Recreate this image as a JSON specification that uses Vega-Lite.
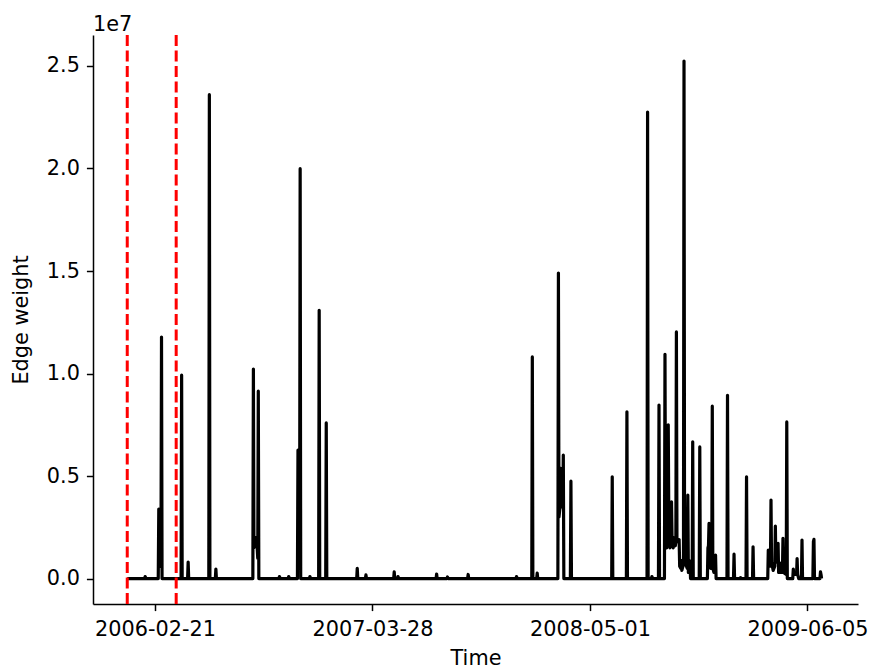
{
  "$schema": "https://vega.github.io/schema/vega-lite/v6.json",
  "width": 765,
  "height": 569,
  "autosize": "none",
  "padding": {"left": 93, "top": 35, "right": 15, "bottom": 67},
  "background": "white",
  "config": {
    "view": {"stroke": null},
    "font": "DejaVu Sans",
    "axis": {
      "grid": false,
      "domainColor": "black",
      "domainWidth": 1.5,
      "tickColor": "black",
      "tickWidth": 1.5,
      "tickSize": 6.6,
      "labelPadding": 5,
      "labelFont": "DejaVu Sans",
      "labelFontSize": 20.8,
      "labelColor": "black",
      "titleFont": "DejaVu Sans",
      "titleFontSize": 20.8,
      "titleFontWeight": "normal",
      "titleColor": "black"
    }
  },
  "title": {
    "text": "1e7",
    "anchor": "start",
    "frame": "group",
    "fontSize": 20.8,
    "fontWeight": "normal",
    "font": "DejaVu Sans",
    "color": "black",
    "offset": -2
  },
  "datasets": {
    "series": [
      {"t": "2006-01-01", "w": 0},
      {"t": "2006-02-02", "w": 0},
      {"t": "2006-02-03", "w": 100000},
      {"t": "2006-02-04", "w": 0},
      {"t": "2006-02-27", "w": 0},
      {"t": "2006-02-28", "w": 3390000},
      {"t": "2006-03-01", "w": 1000000},
      {"t": "2006-03-02", "w": 800000},
      {"t": "2006-03-03", "w": 600000},
      {"t": "2006-03-04", "w": 800000},
      {"t": "2006-03-05", "w": 11780000},
      {"t": "2006-03-06", "w": 0},
      {"t": "2006-04-10", "w": 0},
      {"t": "2006-04-11", "w": 9920000},
      {"t": "2006-04-12", "w": 0},
      {"t": "2006-04-22", "w": 0},
      {"t": "2006-04-23", "w": 800000},
      {"t": "2006-04-24", "w": 0},
      {"t": "2006-05-31", "w": 0},
      {"t": "2006-06-01", "w": 23600000},
      {"t": "2006-06-02", "w": 0},
      {"t": "2006-06-12", "w": 0},
      {"t": "2006-06-13", "w": 460000},
      {"t": "2006-06-14", "w": 0},
      {"t": "2006-08-20", "w": 0},
      {"t": "2006-08-21", "w": 10220000},
      {"t": "2006-08-22", "w": 1500000},
      {"t": "2006-08-24", "w": 1800000},
      {"t": "2006-08-26", "w": 2000000},
      {"t": "2006-08-28", "w": 1500000},
      {"t": "2006-08-29", "w": 1000000},
      {"t": "2006-08-30", "w": 9140000},
      {"t": "2006-08-31", "w": 0},
      {"t": "2006-10-07", "w": 0},
      {"t": "2006-10-08", "w": 100000},
      {"t": "2006-10-09", "w": 0},
      {"t": "2006-10-24", "w": 0},
      {"t": "2006-10-25", "w": 100000},
      {"t": "2006-10-26", "w": 0},
      {"t": "2006-11-10", "w": 0},
      {"t": "2006-11-11", "w": 6260000},
      {"t": "2006-11-12", "w": 1000000},
      {"t": "2006-11-14", "w": 1000000},
      {"t": "2006-11-15", "w": 19990000},
      {"t": "2006-11-16", "w": 0},
      {"t": "2006-12-02", "w": 0},
      {"t": "2006-12-03", "w": 100000},
      {"t": "2006-12-04", "w": 0},
      {"t": "2006-12-19", "w": 0},
      {"t": "2006-12-20", "w": 13080000},
      {"t": "2006-12-21", "w": 0},
      {"t": "2007-01-01", "w": 0},
      {"t": "2007-01-02", "w": 7590000},
      {"t": "2007-01-03", "w": 0},
      {"t": "2007-02-27", "w": 0},
      {"t": "2007-02-28", "w": 500000},
      {"t": "2007-03-01", "w": 0},
      {"t": "2007-03-15", "w": 0},
      {"t": "2007-03-16", "w": 180000},
      {"t": "2007-03-17", "w": 0},
      {"t": "2007-05-06", "w": 0},
      {"t": "2007-05-07", "w": 330000},
      {"t": "2007-05-08", "w": 0},
      {"t": "2007-05-13", "w": 0},
      {"t": "2007-05-14", "w": 100000},
      {"t": "2007-05-15", "w": 0},
      {"t": "2007-07-23", "w": 0},
      {"t": "2007-07-24", "w": 220000},
      {"t": "2007-07-25", "w": 0},
      {"t": "2007-08-12", "w": 0},
      {"t": "2007-08-13", "w": 80000},
      {"t": "2007-08-14", "w": 0},
      {"t": "2007-09-19", "w": 0},
      {"t": "2007-09-20", "w": 200000},
      {"t": "2007-09-21", "w": 0},
      {"t": "2007-12-17", "w": 0},
      {"t": "2007-12-18", "w": 100000},
      {"t": "2007-12-19", "w": 0},
      {"t": "2008-01-15", "w": 0},
      {"t": "2008-01-16", "w": 10810000},
      {"t": "2008-01-17", "w": 0},
      {"t": "2008-01-24", "w": 0},
      {"t": "2008-01-25", "w": 270000},
      {"t": "2008-01-26", "w": 0},
      {"t": "2008-03-03", "w": 0},
      {"t": "2008-03-04", "w": 14900000},
      {"t": "2008-03-05", "w": 3000000},
      {"t": "2008-03-07", "w": 3500000},
      {"t": "2008-03-08", "w": 5380000},
      {"t": "2008-03-09", "w": 3500000},
      {"t": "2008-03-12", "w": 3500000},
      {"t": "2008-03-13", "w": 6020000},
      {"t": "2008-03-14", "w": 0},
      {"t": "2008-03-26", "w": 0},
      {"t": "2008-03-27", "w": 4750000},
      {"t": "2008-03-28", "w": 0},
      {"t": "2008-06-10", "w": 0},
      {"t": "2008-06-11", "w": 4960000},
      {"t": "2008-06-12", "w": 0},
      {"t": "2008-07-07", "w": 0},
      {"t": "2008-07-08", "w": 8130000},
      {"t": "2008-07-09", "w": 0},
      {"t": "2008-08-14", "w": 0},
      {"t": "2008-08-15", "w": 22750000},
      {"t": "2008-08-16", "w": 0},
      {"t": "2008-08-22", "w": 0},
      {"t": "2008-08-23", "w": 100000},
      {"t": "2008-08-24", "w": 0},
      {"t": "2008-09-04", "w": 0},
      {"t": "2008-09-05", "w": 8460000},
      {"t": "2008-09-06", "w": 0},
      {"t": "2008-09-15", "w": 0},
      {"t": "2008-09-16", "w": 10940000},
      {"t": "2008-09-17", "w": 2000000},
      {"t": "2008-09-19", "w": 1500000},
      {"t": "2008-09-21", "w": 2500000},
      {"t": "2008-09-22", "w": 7500000},
      {"t": "2008-09-23", "w": 3000000},
      {"t": "2008-09-25", "w": 1500000},
      {"t": "2008-09-27", "w": 2000000},
      {"t": "2008-09-28", "w": 3740000},
      {"t": "2008-09-29", "w": 2000000},
      {"t": "2008-10-01", "w": 1500000},
      {"t": "2008-10-02", "w": 2000000},
      {"t": "2008-10-03", "w": 1800000},
      {"t": "2008-10-05", "w": 1600000},
      {"t": "2008-10-06", "w": 1800000},
      {"t": "2008-10-07", "w": 12030000},
      {"t": "2008-10-08", "w": 1900000},
      {"t": "2008-10-10", "w": 1800000},
      {"t": "2008-10-12", "w": 1900000},
      {"t": "2008-10-13", "w": 600000},
      {"t": "2008-10-15", "w": 500000},
      {"t": "2008-10-16", "w": 880000},
      {"t": "2008-10-17", "w": 400000},
      {"t": "2008-10-20", "w": 700000},
      {"t": "2008-10-21", "w": 25240000},
      {"t": "2008-10-22", "w": 1000000},
      {"t": "2008-10-24", "w": 700000},
      {"t": "2008-10-27", "w": 500000},
      {"t": "2008-10-28", "w": 4070000},
      {"t": "2008-10-29", "w": 300000},
      {"t": "2008-10-31", "w": 300000},
      {"t": "2008-11-01", "w": 850000},
      {"t": "2008-11-02", "w": 0},
      {"t": "2008-11-05", "w": 0},
      {"t": "2008-11-06", "w": 6670000},
      {"t": "2008-11-07", "w": 0},
      {"t": "2008-11-18", "w": 0},
      {"t": "2008-11-19", "w": 6420000},
      {"t": "2008-11-20", "w": 0},
      {"t": "2008-12-03", "w": 0},
      {"t": "2008-12-04", "w": 1500000},
      {"t": "2008-12-05", "w": 1600000},
      {"t": "2008-12-06", "w": 2690000},
      {"t": "2008-12-07", "w": 1200000},
      {"t": "2008-12-09", "w": 500000},
      {"t": "2008-12-11", "w": 500000},
      {"t": "2008-12-12", "w": 8410000},
      {"t": "2008-12-13", "w": 500000},
      {"t": "2008-12-15", "w": 300000},
      {"t": "2008-12-17", "w": 300000},
      {"t": "2008-12-18", "w": 1150000},
      {"t": "2008-12-19", "w": 0},
      {"t": "2009-01-08", "w": 0},
      {"t": "2009-01-09", "w": 8940000},
      {"t": "2009-01-10", "w": 0},
      {"t": "2009-01-20", "w": 0},
      {"t": "2009-01-21", "w": 1190000},
      {"t": "2009-01-22", "w": 0},
      {"t": "2009-02-01", "w": 0},
      {"t": "2009-02-02", "w": 50000},
      {"t": "2009-02-03", "w": 0},
      {"t": "2009-02-12", "w": 0},
      {"t": "2009-02-13", "w": 4960000},
      {"t": "2009-02-14", "w": 0},
      {"t": "2009-02-24", "w": 0},
      {"t": "2009-02-25", "w": 1550000},
      {"t": "2009-02-26", "w": 0},
      {"t": "2009-03-24", "w": 0},
      {"t": "2009-03-25", "w": 1390000},
      {"t": "2009-03-26", "w": 600000},
      {"t": "2009-03-28", "w": 600000},
      {"t": "2009-03-29", "w": 800000},
      {"t": "2009-03-30", "w": 3830000},
      {"t": "2009-03-31", "w": 800000},
      {"t": "2009-04-03", "w": 400000},
      {"t": "2009-04-06", "w": 600000},
      {"t": "2009-04-07", "w": 2560000},
      {"t": "2009-04-08", "w": 800000},
      {"t": "2009-04-11", "w": 800000},
      {"t": "2009-04-12", "w": 1720000},
      {"t": "2009-04-13", "w": 300000},
      {"t": "2009-04-16", "w": 300000},
      {"t": "2009-04-17", "w": 750000},
      {"t": "2009-04-18", "w": 300000},
      {"t": "2009-04-20", "w": 300000},
      {"t": "2009-04-21", "w": 1960000},
      {"t": "2009-04-22", "w": 300000},
      {"t": "2009-04-27", "w": 200000},
      {"t": "2009-04-28", "w": 7640000},
      {"t": "2009-04-29", "w": 0},
      {"t": "2009-05-09", "w": 0},
      {"t": "2009-05-10", "w": 460000},
      {"t": "2009-05-11", "w": 200000},
      {"t": "2009-05-16", "w": 200000},
      {"t": "2009-05-17", "w": 980000},
      {"t": "2009-05-18", "w": 200000},
      {"t": "2009-05-20", "w": 0},
      {"t": "2009-05-25", "w": 0},
      {"t": "2009-05-26", "w": 1880000},
      {"t": "2009-05-27", "w": 0},
      {"t": "2009-06-15", "w": 0},
      {"t": "2009-06-16", "w": 1800000},
      {"t": "2009-06-17", "w": 1910000},
      {"t": "2009-06-18", "w": 0},
      {"t": "2009-06-28", "w": 0},
      {"t": "2009-06-29", "w": 330000},
      {"t": "2009-06-30", "w": 200000},
      {"t": "2009-07-01", "w": 0}
    ],
    "markers": [
      {"t": "2006-01-01"},
      {"t": "2006-04-01"}
    ]
  },
  "layer": [
    {
      "data": {"name": "series"},
      "mark": {"type": "line", "color": "black", "strokeWidth": 3.2, "strokeJoin": "round", "strokeCap": "butt", "clip": true},
      "encoding": {
        "x": {
          "field": "t",
          "type": "temporal",
          "scale": {
            "type": "utc",
            "domain": [
              {"year": 2005, "month": 10, "date": 30, "utc": true},
              {"year": 2009, "month": 9, "date": 6, "utc": true}
            ]
          },
          "axis": {
            "title": "Time",
            "titlePadding": 9,
            "labelPadding": 9,
            "format": "%Y-%m-%d",
            "labelFlush": false,
            "labelOverlap": false,
            "values": [
              {"year": 2006, "month": 2, "date": 21, "utc": true},
              {"year": 2007, "month": 3, "date": 28, "utc": true},
              {"year": 2008, "month": 5, "date": 1, "utc": true},
              {"year": 2009, "month": 6, "date": 5, "utc": true}
            ]
          }
        },
        "y": {
          "field": "w",
          "type": "quantitative",
          "scale": {"domain": [-1240000, 26510000], "nice": false, "zero": false},
          "axis": {
            "title": "Edge weight",
            "titlePadding": 15,
            "labelPadding": 7,
            "values": [0, 5000000, 10000000, 15000000, 20000000, 25000000],
            "labelExpr": "format(datum.value / 10000000, '.1f')"
          }
        }
      }
    },
    {
      "data": {"name": "markers"},
      "mark": {"type": "rule", "color": "#ff0000", "strokeWidth": 3, "strokeDash": [11, 4.5]},
      "encoding": {
        "x": {"field": "t", "type": "temporal"}
      }
    }
  ]
}
